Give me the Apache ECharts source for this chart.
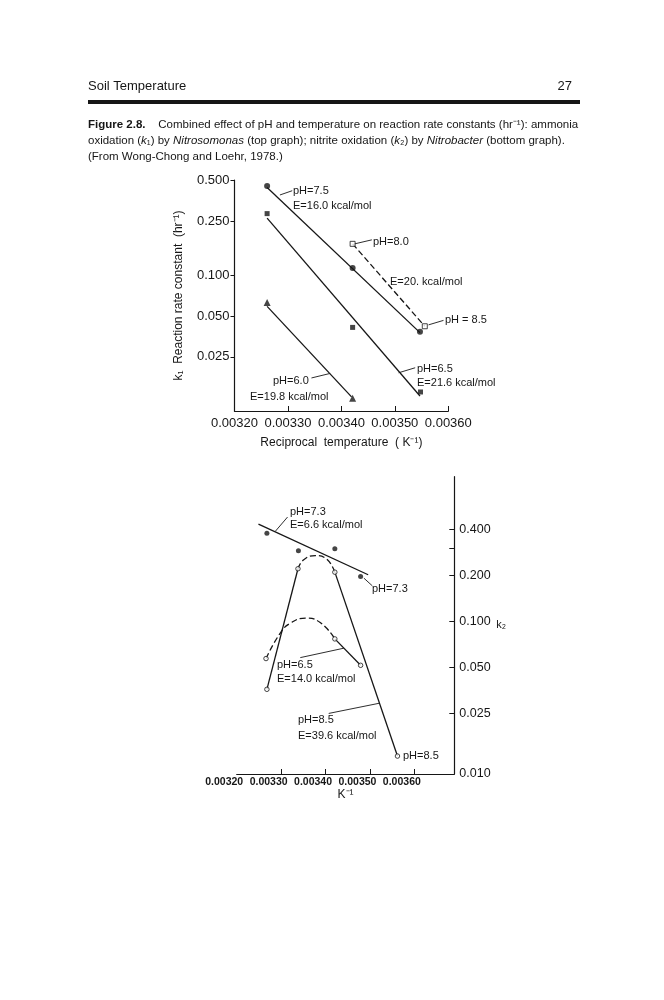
<!DOCTYPE html>
<html>
<head>
<meta charset="utf-8">
<script src="https://cdn.jsdelivr.net/npm/echarts@6/dist/echarts.min.js"></script>
<style>
html, body { margin: 0; padding: 0; background: #fff; }
#main { width: 664px; height: 1000px; }
</style>
</head>
<body>
<div id="main"></div>
<script>
// ---- top graph: k1 (Nitrosomonas) ----
var k1Ticks = [0.500, 0.250, 0.100, 0.050, 0.025];
var xTicksTop = [0.00320, 0.00330, 0.00340, 0.00350, 0.00360];

var ph75X = [0.003261, 0.003421, 0.003547];
var ph75K = [0.452, 0.1125, 0.0382];
var ph75FitX = [0.003261, 0.003547];
var ph75FitK = [0.440, 0.0377];

var ph65X = [0.003261, 0.003421, 0.003548];
var ph65K = [0.283, 0.0412, 0.0138];
var ph65FitX = [0.003261, 0.003547];
var ph65FitK = [0.262, 0.0129];

var ph60X = [0.003261, 0.003421];
var ph60K = [0.0629, 0.0124];
var ph60FitX = [0.003261, 0.003419];
var ph60FitK = [0.0588, 0.0127];

var ph80X = [0.003421];
var ph80K = [0.1696];
var ph85X = [0.003556];
var ph85K = [0.0420];

// ---- bottom graph: k2 (Nitrobacter) ----
var k2Ticks = [0.400, 0.200, 0.100, 0.050, 0.025, 0.010];
var k2TickMarks = [0.400, 0.300, 0.200, 0.100, 0.050, 0.025];
var xTicksBottom = [0.00320, 0.00330, 0.00340, 0.00350, 0.00360];
var xTickMarksBottom = [0.00330, 0.00340, 0.00350, 0.00360];

var ph73X = [0.003268, 0.003339, 0.003421, 0.003479];
var ph73K = [0.376, 0.288, 0.297, 0.196];
var ph73FitX = [0.003249, 0.003496];
var ph73FitK = [0.431, 0.201];

var b85X = [0.003268, 0.003338, 0.003421, 0.003562];
var b85K = [0.0358, 0.220, 0.209, 0.0131];
var b85PeakX = [0.003338, 0.003351, 0.003377, 0.003400, 0.003421];
var b85PeakK = [0.220, 0.252, 0.268, 0.258, 0.209];

var b65X = [0.003266, 0.003421, 0.003479];
var b65K = [0.0569, 0.0765, 0.0514];
var b65CurveX = [0.003266, 0.003298, 0.003321, 0.003355, 0.003388, 0.003421];
var b65CurveK = [0.0569, 0.0834, 0.0970, 0.1045, 0.0978, 0.0765];

// leader lines, in data units [x1, k1, x2, k2]
var leadersTop = [
  [0.003285, 0.388, 0.003308, 0.417],
  [0.003425, 0.1696, 0.003457, 0.1815],
  [0.003563, 0.0430, 0.003591, 0.0464],
  [0.003507, 0.0191, 0.003538, 0.0208],
  [0.003344, 0.0175, 0.003379, 0.0189]
];
var leadersBottom = [
  [0.0032867, 0.3858, 0.0033145, 0.4793],
  [0.0034864, 0.1910, 0.0035054, 0.1701],
  [0.0033432, 0.0577, 0.0034412, 0.0665],
  [0.0034072, 0.0249, 0.0035204, 0.0290]
];

var FONT = "'Liberation Sans', Arial, sans-serif";
var INK = '#161616';

function pts(xs, ks) {
  return xs.map(function (x, i) { return [x, Math.log10(ks[i])]; });
}

function lineSeries(g, xs, ks, dashed, smooth) {
  return {
    type: 'line', xAxisIndex: g, yAxisIndex: g,
    data: pts(xs, ks), symbol: 'none', smooth: smooth || false,
    lineStyle: { color: INK, width: 1.3, type: dashed ? [6, 3] : 'solid' },
    silent: true, animation: false, z: 2
  };
}

function markers(g, xs, ks, symbol, size, hollow) {
  return {
    type: 'scatter', xAxisIndex: g, yAxisIndex: g,
    data: pts(xs, ks), symbol: symbol, symbolSize: size,
    itemStyle: hollow ? { color: '#fff', borderColor: INK, borderWidth: 1 } : { color: INK },
    silent: true, animation: false, z: 3
  };
}

function leaderMarkLine(list) {
  return {
    symbol: ['none', 'none'], silent: true, animation: false,
    label: { show: false },
    lineStyle: { color: INK, width: 0.9, type: 'solid' },
    emphasis: { disabled: true },
    data: list.map(function (l) {
      return [{ coord: [l[0], Math.log10(l[1])] }, { coord: [l[2], Math.log10(l[3])] }];
    })
  };
}

function txt(s, x, y, size) {
  return {
    type: 'text', x: x, y: y, silent: true,
    style: {
      text: s, fill: INK, fontSize: size || 11, fontFamily: FONT,
      align: 'left', verticalAlign: 'middle', textAlign: 'left', textVerticalAlign: 'middle'
    }
  };
}

var richCap = {
  b: { fontWeight: 'bold', fontSize: 11.5, fontFamily: FONT, fill: INK },
  i: { fontStyle: 'italic', fontSize: 11.5, fontFamily: FONT, fill: INK }
};
function cap(s, y) {
  return {
    type: 'text', x: 88, y: y, silent: true,
    style: {
      text: s, fill: INK, fontSize: 11.5, fontFamily: FONT, rich: richCap,
      align: 'left', verticalAlign: 'middle', textAlign: 'left', textVerticalAlign: 'middle'
    }
  };
}

var top75Fit = lineSeries(0, ph75FitX, ph75FitK);
top75Fit.markLine = leaderMarkLine(leadersTop);
var bot73Fit = lineSeries(1, ph73FitX, ph73FitK);
bot73Fit.markLine = leaderMarkLine(leadersBottom);

var axisText = { color: INK, fontFamily: FONT };

var chart = echarts.init(document.getElementById('main'));
chart.setOption({
  backgroundColor: '#fff',
  animation: false,
  grid: [
    { left: 234.5, top: 180, width: 213.8, height: 231, outerBoundsMode: 'none' },
    { left: 236.7, top: 476.7, width: 217.6, height: 297.3, outerBoundsMode: 'none' }
  ],
  xAxis: [
    {
      gridIndex: 0, type: 'value', min: 0.0032, max: 0.0036,
      axisLine: { show: true, onZero: false, lineStyle: { color: INK, width: 1.2 } },
      axisTick: { show: true, inside: true, length: 5, customValues: xTicksTop, lineStyle: { color: INK } },
      axisLabel: Object.assign({ customValues: xTicksTop, fontSize: 13, margin: 6,
        formatter: function (v) { return v.toFixed(5); } }, axisText),
      splitLine: { show: false },
      name: 'Reciprocal  temperature  ( K⁻¹)', nameLocation: 'middle', nameGap: 26,
      nameTextStyle: Object.assign({ fontSize: 12 }, axisText)
    },
    {
      gridIndex: 1, type: 'value', min: 0.0032, max: 0.00369,
      axisLine: { show: true, onZero: false, lineStyle: { color: INK, width: 1.2 } },
      axisTick: { show: true, inside: true, length: 5, customValues: xTickMarksBottom, lineStyle: { color: INK } },
      axisLabel: Object.assign({ customValues: xTicksBottom, fontSize: 10.5, fontWeight: 'bold', margin: 3,
        padding: [0, 25, 0, 0],
        formatter: function (v) { return v.toFixed(5); } }, axisText),
      splitLine: { show: false },
      name: 'K⁻¹', nameLocation: 'middle', nameGap: 14,
      nameTextStyle: Object.assign({ fontSize: 12 }, axisText)
    }
  ],
  yAxis: [
    {
      gridIndex: 0, type: 'value', min: -2, max: Math.log10(0.5),
      axisLine: { show: true, onZero: false, lineStyle: { color: INK, width: 1.2 } },
      axisTick: { show: true, inside: false, length: 4, customValues: k1Ticks.map(Math.log10), lineStyle: { color: INK } },
      axisLabel: Object.assign({ customValues: k1Ticks.map(Math.log10), fontSize: 13, margin: 5,
        formatter: function (v) { return Math.pow(10, v).toFixed(3); } }, axisText),
      splitLine: { show: false },
      name: 'k₁  Reaction rate constant  (hr⁻¹)', nameLocation: 'middle', nameRotate: 90, nameGap: 50,
      nameTextStyle: Object.assign({ fontSize: 12 }, axisText)
    },
    {
      gridIndex: 1, type: 'value', position: 'right', min: -2, max: Math.log10(0.88),
      axisLine: { show: true, onZero: false, lineStyle: { color: INK, width: 1.2 } },
      axisTick: { show: true, inside: true, length: 5, customValues: k2TickMarks.map(Math.log10), lineStyle: { color: INK } },
      axisLabel: Object.assign({ customValues: k2Ticks.map(Math.log10), fontSize: 12.5, margin: 5,
        formatter: function (v) { return Math.pow(10, v).toFixed(3); } }, axisText),
      splitLine: { show: false },
      name: 'k₂', nameLocation: 'middle', nameRotate: 0, nameGap: 42,
      nameTextStyle: Object.assign({ fontSize: 11, align: 'left' }, axisText)
    }
  ],
  series: [
    // top
    top75Fit,
    markers(0, ph75X, ph75K, 'circle', 6),
    lineSeries(0, ph65FitX, ph65FitK),
    markers(0, ph65X, ph65K, 'rect', 5),
    lineSeries(0, ph60FitX, ph60FitK),
    markers(0, ph60X, ph60K, 'triangle', 7),
    lineSeries(0, ph80X.concat(ph85X), ph80K.concat(ph85K), true),
    markers(0, ph80X.concat(ph85X), ph80K.concat(ph85K), 'rect', 5, true),
    // bottom
    bot73Fit,
    markers(1, ph73X, ph73K, 'circle', 5),
    lineSeries(1, b85X.slice(0, 2), b85K.slice(0, 2)),
    lineSeries(1, b85PeakX, b85PeakK, true, 0.5),
    lineSeries(1, b85X.slice(2), b85K.slice(2)),
    markers(1, b85X, b85K, 'circle', 4.5, true),
    lineSeries(1, b65CurveX, b65CurveK, true, 0.5),
    lineSeries(1, b65X.slice(1), b65K.slice(1)),
    markers(1, b65X, b65K, 'circle', 4.5, true)
  ],
  graphic: [
    txt('Soil Temperature', 88, 86, 13),
    { type: 'text', x: 572, y: 86, silent: true,
      style: { text: '27', fill: INK, fontSize: 13, fontFamily: FONT,
        align: 'right', verticalAlign: 'middle', textAlign: 'right', textVerticalAlign: 'middle' } },
    { type: 'rect', silent: true, shape: { x: 88, y: 100, width: 492, height: 4 }, style: { fill: INK } },
    cap('{b|Figure 2.8.}    Combined effect of pH and temperature on reaction rate constants (hr⁻¹): ammonia', 125),
    cap('oxidation ({i|k}₁) by {i|Nitrosomonas} (top graph); nitrite oxidation ({i|k}₂) by {i|Nitrobacter} (bottom graph).', 141),
    cap('(From Wong-Chong and Loehr, 1978.)', 157),
    // top annotations
    txt('pH=7.5', 293, 191),
    txt('E=16.0 kcal/mol', 293, 206),
    txt('pH=8.0', 373, 242),
    txt('E=20. kcal/mol', 390, 282),
    txt('pH = 8.5', 445, 320),
    txt('pH=6.5', 417, 369),
    txt('E=21.6 kcal/mol', 417, 383),
    txt('pH=6.0', 273, 381),
    txt('E=19.8 kcal/mol', 250, 397),
    // bottom annotations
    txt('pH=7.3', 290, 512),
    txt('E=6.6 kcal/mol', 290, 525),
    txt('pH=7.3', 372, 589),
    txt('pH=6.5', 277, 665),
    txt('E=14.0 kcal/mol', 277, 679),
    txt('pH=8.5', 298, 720),
    txt('E=39.6 kcal/mol', 298, 736),
    txt('pH=8.5', 403, 756)
  ]
});
</script>
</body>
</html>
